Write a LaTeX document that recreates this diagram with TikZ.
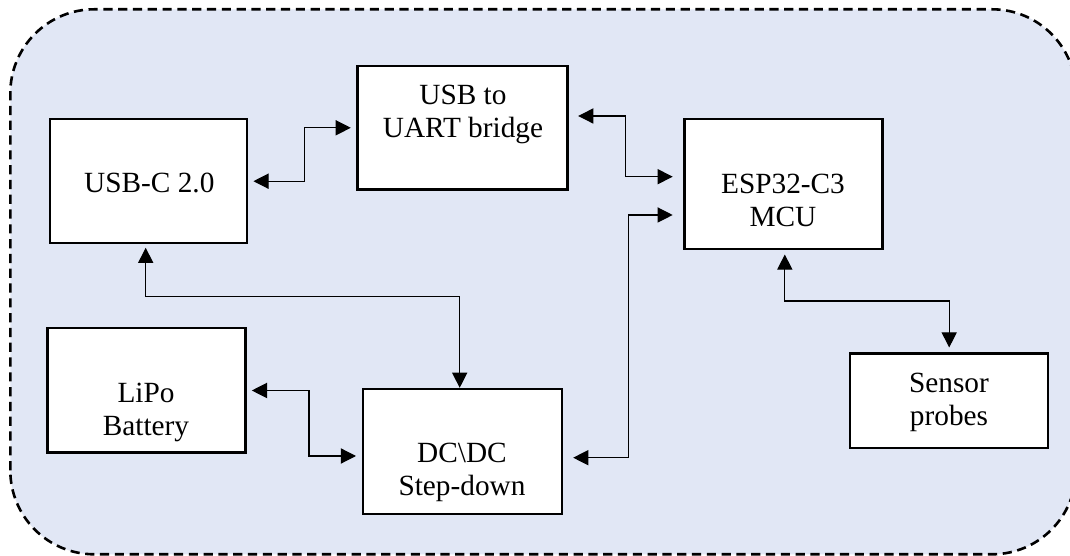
\documentclass[tikz,border=0pt]{standalone}
\usepackage{fontspec}
\setmainfont{Liberation Serif}
\usetikzlibrary{arrows.meta,calc}
\definecolor{panelblue}{RGB}{225,231,245}
\begin{document}
\begin{tikzpicture}[x=0.5pt,y=0.5pt,
  blk/.style={draw=black,fill=white,line width=1.2pt,rectangle,inner sep=0pt},
  lbl/.style={align=center,inner sep=0pt,font=\fontsize{14.65}{16.5}\selectfont},
  conn/.style={line width=0.6pt,{Triangle[length=7.6pt,width=7.6pt]}-{Triangle[length=7.6pt,width=7.6pt]}}]
\clip (0,0) rectangle (1070,556);
\fill[white] (0,0) rectangle (1070,556);
\draw[fill=panelblue, dash pattern=on 4.6pt off 2.8pt, line width=1.3pt, rounded corners=42pt] (10.3,1.7) rectangle (1076,546.7);

\node[blk,minimum width=98.5pt,minimum height=62pt] (usbc) at (148.5,374.8) {};
\node[blk,minimum width=105pt,minimum height=61.75pt] (uart) at (462.5,428.2) {};
\node[blk,minimum width=99pt,minimum height=65pt] (esp) at (783.3,372) {};
\node[blk,minimum width=99pt,minimum height=62.2pt] (lipo) at (146.4,165.5) {};
\node[blk,minimum width=99.5pt,minimum height=62.5pt] (dc) at (462.2,104.5) {};
\node[blk,minimum width=99pt,minimum height=47.3pt] (sensor) at (949.2,155) {};

\node[lbl,anchor=base] (usbctext) at (149.3,363.3) {USB-C 2.0};
\node[lbl] (uarttext) at (463,442) {USB to\\UART bridge};
\node[lbl] (esptext) at (783,355.7) {ESP32-C3\\MCU};
\node[lbl] (lipotext) at (146,143.3) {LiPo\\Battery};
\node[lbl] (dctext) at (462,83.5) {DC\textbackslash DC\\Step-down};
\node[lbl] (sensortext) at (949,153.7) {Sensor\\probes};

\coordinate (k1) at (304.8,0);
\coordinate (k2) at (625.7,0);
\coordinate (k3) at (459.7,259.3);
\coordinate (k4) at (308.9,0);
\coordinate (k5) at (628.8,0);
\coordinate (k6) at (0,255);

\draw[conn,shorten <=2.6pt,shorten >=2.75pt] (usbc.east) -| (k1 |- uart.west) -- (uart.west);
\draw[conn,shorten <=4.75pt,shorten >=5.2pt] ($(uart.east)+(0,11.8)$) -| ($(k2 |- esp.west)+(0,7.3)$) -- ($(esp.west)+(0,7.3)$);
\draw[conn,shorten <=1.7pt] ($(usbc.south)+(-2.8,0)$) |- (k3) -- ($(dc.north)+(-2.5,0)$);
\draw[conn,shorten <=2.6pt,shorten >=2.75pt] (lipo.east) -| ($(k4 |- dc.west)+(0,-4.5)$) -- ($(dc.west)+(0,-4.5)$);
\draw[conn,shorten <=5.15pt,shorten >=5.2pt] ($(dc.east)+(0,-6.2)$) -| ($(k5 |- esp.west)+(0,-31)$) -- ($(esp.west)+(0,-31)$);
\draw[conn,shorten <=2.15pt,shorten >=2.5pt] ($(esp.south)+(1.5,0)$) |- (sensor.north |- k6) -- (sensor.north);
\end{tikzpicture}
\end{document}
